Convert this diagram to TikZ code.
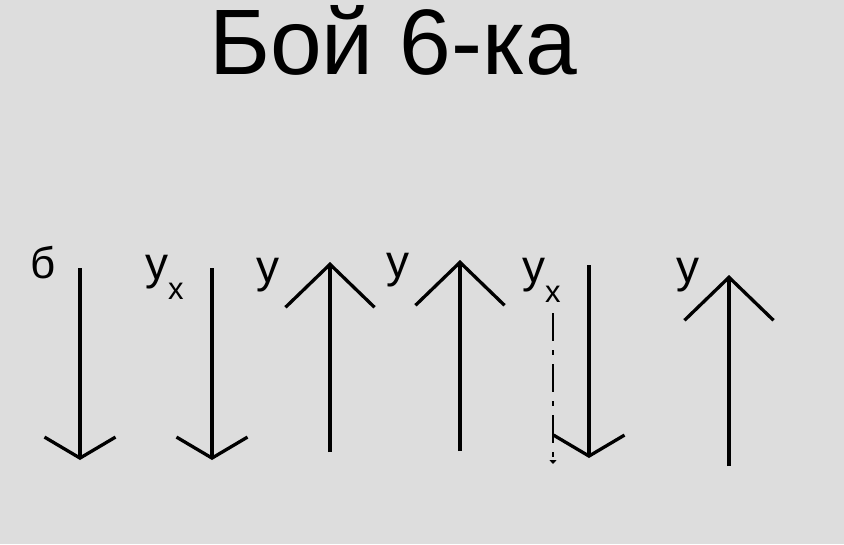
\documentclass[tikz,border=0pt]{standalone}
\usepackage{fontspec}
\setmainfont{Liberation Sans}
\usetikzlibrary{positioning, arrows.meta}
\definecolor{bggray}{RGB}{221,221,221}

\begin{document}
\begin{tikzpicture}[
    x=1pt, y=-1pt,
    mylabel/.style={anchor=base west, inner sep=0pt, font=\fontsize{46}{50}\selectfont},
    mydown/.style={line width=3.3pt, -{Straight Barb[length=21pt, width=71pt, line width=3.3pt]}},
    myup/.style={line width=3.3pt, -{Straight Barb[length=43pt, width=89pt, line width=3.3pt]}},
    mydash/.style={line width=1.8pt, dash pattern=on 28pt off 9pt on 5pt off 9pt, -{Triangle[length=4pt, width=7pt]}}]

    \fill[bggray] (0,0) rectangle (844,544);
    \useasboundingbox (0,0) rectangle (844,544);

    \newcommand{\subx}{\raisebox{-20pt}{\fontsize{31}{31}\selectfont x}}

    \node[anchor=base, inner sep=0pt, font=\fontsize{93}{100}\selectfont] (title) at (393,74) {Бой 6-ка};

    \coordinate (b1) at (80,268);   \coordinate (e1) at (80,460);
    \coordinate (b2) at (212,268);  \coordinate (e2) at (212,460);
    \coordinate (b3) at (330,452);  \coordinate (e3) at (330,262);
    \coordinate (b4) at (460,451);  \coordinate (e4) at (460,260);
    \coordinate (b5) at (589,265);  \coordinate (e5) at (589,458);
    \coordinate (b6) at (729,466);  \coordinate (e6) at (729,275);
    \coordinate (d1) at (553,313);  \coordinate (d2) at (553,464);

    \draw[mydown] (b1) -- (e1);
    \draw[mydown] (b2) -- (e2);
    \draw[myup] (b3) -- (e3);
    \draw[myup] (b4) -- (e4);
    \draw[mydown] (b5) -- (e5);
    \draw[myup] (b6) -- (e6);
    \draw[mydash] (d1) -- (d2);

    \node[mylabel, font=\fontsize{44}{48}\selectfont] (lb) at (30,278) {б};
    \node[mylabel] (ly1) at (145,279) {у\subx};
    \node[mylabel] (ly2) at (256,282) {у};
    \node[mylabel] (ly3) at (386,277) {у};
    \node[mylabel] (ly4) at (522,282) {у\subx};
    \node[mylabel] (ly5) at (676,282) {у};

\end{tikzpicture}
\end{document}
